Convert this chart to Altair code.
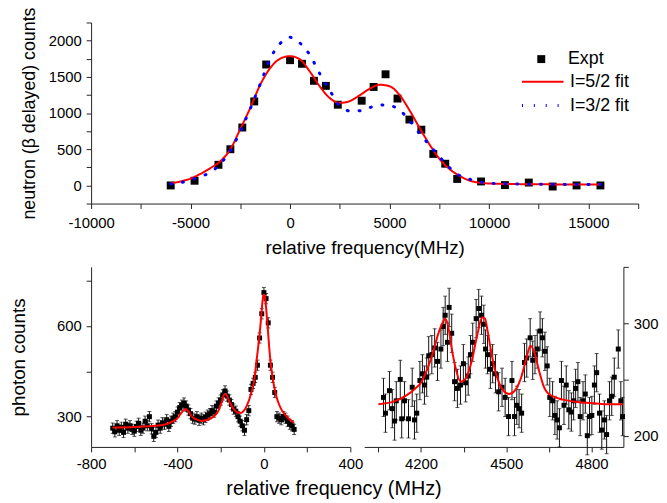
import altair as alt
import pandas as pd

FONT = "Liberation Sans"

# ---------------- top panel data ----------------
expt_freq = [-6000, -4800, -3600, -3000, -2400, -1800, -1200, 0, 600, 1200, 1800, 2400,
             3600, 4200, 4800, 5400, 6000, 6600, 7200, 7800, 8400, 9600, 10800, 12000,
             13200, 14400, 15600]
expt_counts = [0, 65, 285, 500, 800, 1160, 1670, 1730, 1680, 1445, 1375, 1115,
               1170, 1360, 1535, 1200, 910, 770, 435, 300, 90, 55, 5, 40,
               -15, 0, 0]

fit_freq = [-6000, -5500, -5000, -4500, -4000, -3500, -3000, -2500, -2000, -1500, -1000,
            -500, 0, 500, 1000, 1500, 2000, 2500, 3000, 3500, 4000, 4500, 5000, 5500,
            6000, 6500, 7000, 7500, 8000, 8500, 9000, 9500, 10000, 11000, 12000, 13000,
            14000, 15000, 15600]
fit_52 = [30, 55, 95, 160, 240, 335, 500, 780, 1070, 1390, 1620, 1750, 1785, 1740, 1570,
          1365, 1205, 1140, 1165, 1245, 1335, 1390, 1370, 1250, 1040, 800, 570, 370, 230,
          135, 70, 38, 27, 20, 17, 15, 13, 12, 12]
fit_32 = [23, 40, 75, 125, 180, 300, 478, 750, 1060, 1400, 1750, 1960, 2045, 1965, 1800,
          1540, 1310, 1100, 1030, 1030, 1075, 1110, 1105, 1040, 900, 720, 560, 400, 250,
          140, 88, 50, 32, 22, 18, 15, 13, 12, 12]

# ---------------- bottom-left data ----------------
left_freq = [-700, -690, -680, -670, -660, -650, -640, -630, -620, -610, -600, -590, -580,
             -570, -560, -550, -540, -530, -520, -510, -500, -490, -480, -470, -460, -450,
             -440, -430, -420, -410, -400, -390, -380, -370, -360, -350, -340, -330, -320,
             -310, -300, -290, -280, -270, -260, -250, -240, -230, -220, -210, -200, -190,
             -180, -170, -160, -150, -140, -130, -120, -110, -100, -90, -80, -70, -60, -50,
             -40, -30, -20, -10, 0, 10, 20, 30, 40, 50, 60, 70, 80, 90, 100, 110, 120, 130,
             140]
left_counts = [262, 250, 270, 255, 265, 248, 275, 262, 270, 258, 252, 268, 278,
               255, 262, 285, 270, 300, 260, 235, 248, 272, 262, 280, 275, 290,
               268, 285, 295, 300, 315, 330, 338, 345, 335, 322, 310, 295, 292,
               300, 288, 295, 290, 298, 305, 310, 320, 315, 335, 345, 355, 372,
               385, 368, 355, 340, 325, 318, 300, 285, 270, 255, 290, 320, 390, 410,
               430, 470, 560, 640, 710, 690, 610, 470, 430, 380, 300, 295, 290, 300,
               295, 285, 275, 270, 258]
left_fit_freq = [-700, -600, -500, -450, -420, -400, -385, -370, -362, -350, -335, -310,
                 -290, -260, -230, -210, -195, -185, -180, -172, -160, -145, -125, -110,
                 -95, -80, -60, -45, -35, -25, -15, -8, -3, 0, 4, 10, 18, 28, 40, 50, 65,
                 80, 100, 120, 140]
left_fit = [264, 266, 270, 276, 285, 295, 310, 322, 325, 318, 302, 290,
            286, 290, 302, 320, 350, 372, 376, 370, 350, 330, 315, 312,
            318, 335, 375, 420, 480, 540, 610, 670, 700, 704, 698, 660, 590, 500, 430, 390, 350,
            325, 305, 290, 280]

# ---------------- bottom-right data ----------------
right_freq = [4068, 4075, 4089, 4099, 4107, 4113, 4127, 4132, 4142, 4156, 4169, 4177, 4185,
              4196, 4205, 4212, 4220, 4227, 4238, 4248, 4258, 4270, 4278, 4285, 4293, 4299,
              4308, 4318, 4328, 4339, 4349, 4357, 4366, 4374, 4382, 4394, 4403, 4413, 4421,
              4427, 4434, 4444, 4452, 4462, 4473, 4485, 4496, 4508, 4520, 4529, 4537, 4545,
              4554, 4564, 4572, 4584, 4593, 4601, 4609, 4619, 4627, 4636, 4644, 4653, 4663,
              4671, 4679, 4687, 4694, 4703, 4711, 4720, 4729, 4737, 4744, 4752, 4760, 4770,
              4778, 4785, 4793, 4801, 4810, 4818, 4828, 4836, 4845, 4853, 4863, 4871, 4880,
              4894, 4903, 4909]
right_counts = [234, 220, 240, 224, 213, 231, 250, 215, 231, 215, 243, 214, 220,
                249, 255, 245, 252, 271, 272, 278, 266, 277, 297, 307, 283, 314,
                291, 248, 242, 245, 264, 247, 253, 272, 283, 304, 313, 307, 299,
                277, 272, 259, 264, 255, 239, 243, 234, 217, 249, 217, 227, 224,
                220, 265, 269, 287, 267, 272, 277, 293, 287, 275, 262, 234, 231,
                218, 214, 207, 249, 227, 245, 223, 221, 231, 242, 248, 217, 231,
                237, 200, 217, 218, 245, 256, 220, 205, 214, 201, 231, 235, 252,
                277, 231, 217]
right_fit_freq = [4050, 4100, 4150, 4180, 4200, 4220, 4240, 4260, 4275, 4285, 4295, 4305,
                  4320, 4340, 4360, 4380, 4400, 4415, 4425, 4435, 4450, 4470, 4490, 4510,
                  4530, 4550, 4570, 4585, 4600, 4615, 4630, 4650, 4700, 4750, 4800, 4850,
                  4910]
right_fit = [228, 230, 236, 242, 247, 258, 272, 290, 300, 304, 298, 282,
             262, 248, 252, 268, 292, 305, 304, 292, 270, 250, 240, 237,
             240, 250, 268, 280, 273, 258, 245, 237, 232, 230, 229, 228,
             228]

left_err = 17   # approx. half-length of the error bars (counts)
right_err = 17

# ---------------- tick lists ----------------
top_x_ticks = [-10000, -7500, -5000, -2500, 0, 2500, 5000, 7500, 10000, 12500, 15000, 17500]
top_y_ticks = [-250, 0, 250, 500, 750, 1000, 1250, 1500, 1750, 2000, 2250]
bl_x_ticks = [-800, -600, -400, -200, 0, 200, 400]
bl_y_ticks = [300, 450, 600, 750]
br_x_ticks = [4050, 4200, 4350, 4500, 4650, 4800]
br_y_ticks = [200, 250, 300, 350]


def lab(step):
    return f"datum.value % {step} === 0 ? '' + datum.value : ''"


# ---------------- top chart ----------------
expt_df = pd.DataFrame({"freq": expt_freq, "counts": expt_counts, "series": "Expt"})
fit_df = pd.concat([
    pd.DataFrame({"freq": fit_freq, "counts": fit_52, "series": "I=5/2 fit"}),
    pd.DataFrame({"freq": fit_freq, "counts": fit_32, "series": "I=3/2 fit"}),
])

tx = alt.X("freq:Q", scale=alt.Scale(domain=[-10000, 17500], nice=False, zero=False),
           axis=alt.Axis(values=top_x_ticks, labelExpr=lab(5000), labelPadding=7,
                         title="relative frequency(MHz)", titleFontSize=19, titlePadding=8))
ty = alt.Y("counts:Q", scale=alt.Scale(domain=[-250, 2250], nice=False, zero=False),
           axis=alt.Axis(values=top_y_ticks, labelExpr=lab(500),
                         title="neutron (β delayed) counts", titleFontSize=18, titlePadding=10))

pts = alt.Chart(expt_df).mark_point(filled=True, size=64, color="black", opacity=1).encode(
    x=tx, y=ty,
    shape=alt.Shape("series:N", scale=alt.Scale(domain=["Expt"], range=["square"]),
                    legend=alt.Legend(orient="none", legendX=446, legendY=28, title=None,
                                      labelFontSize=18, labelOffset=18, symbolSize=64,
                                      symbolFillColor="black", symbolStrokeColor="black",
                                      padding=0)),
)

line_legend = alt.Legend(orient="none", legendX=446, legendY=50, title=None,
                         labelFontSize=18, labelOffset=17, symbolSize=324,
                         symbolType="M-2.333,0H2.333", symbolStrokeWidth=2.5,
                         rowPadding=4.5, padding=0)
fit_dom = ["I=5/2 fit", "I=3/2 fit"]
lines = alt.Chart(fit_df).mark_line(interpolate="monotone", strokeCap="round").encode(
    x=tx, y=ty,
    color=alt.Color("series:N", scale=alt.Scale(domain=fit_dom, range=["#ff0000", "#0000ff"]),
                    legend=line_legend),
    strokeDash=alt.StrokeDash("series:N", scale=alt.Scale(domain=fit_dom, range=[[1, 0], [1, 11]]),
                              legend=line_legend),
    strokeWidth=alt.StrokeWidth("series:N", scale=alt.Scale(domain=fit_dom, range=[2, 3]),
                                legend=None),
    detail="series:N",
)

top = alt.layer(pts, lines).properties(width=553, height=183)

# ---------------- bottom-left chart ----------------
bl_df = pd.DataFrame({"freq": left_freq, "counts": left_counts})
bl_df["err"] = left_err
blfit_df = pd.DataFrame({"freq": left_fit_freq, "counts": left_fit})

blx = alt.X("freq:Q", scale=alt.Scale(domain=[-800, 400], nice=False, zero=False),
            axis=alt.Axis(values=bl_x_ticks, labelExpr=lab(400), title=None))
bly = alt.Y("counts:Q", scale=alt.Scale(domain=[200, 795], nice=False, zero=False),
            axis=alt.Axis(values=bl_y_ticks, labelExpr=lab(300), title="photon counts",
                          titleFontSize=19, titlePadding=28))

bl_err = alt.Chart(bl_df).mark_errorbar(ticks={"size": 4}, color="#111", thickness=1).encode(
    x=blx, y=bly, yError="err:Q")
bl_pts = alt.Chart(bl_df).mark_point(shape="square", filled=True, size=25, color="black",
                                     opacity=1).encode(x=blx, y=bly)
bl_line = alt.Chart(blfit_df).mark_line(color="#ff0000", strokeWidth=2,
                                        interpolate="monotone").encode(x=blx, y=bly)
bl = alt.layer(bl_err, bl_pts, bl_line).properties(width=262, height=182)

# ---------------- bottom-right chart ----------------
br_df = pd.DataFrame({"freq": right_freq, "counts": right_counts})
br_df["err"] = right_err
brfit_df = pd.DataFrame({"freq": right_fit_freq, "counts": right_fit})

brx = alt.X("freq:Q", scale=alt.Scale(domain=[4000, 4912], nice=False, zero=False),
            axis=alt.Axis(values=br_x_ticks, labelExpr=lab(300), title=None))
bry = alt.Y("counts:Q", scale=alt.Scale(domain=[190, 350], nice=False, zero=False),
            axis=alt.Axis(values=br_y_ticks, labelExpr=lab(100), title=None, orient="right"))

br_err = alt.Chart(br_df).mark_errorbar(ticks={"size": 4}, color="#111", thickness=1).encode(
    x=brx, y=bry, yError="err:Q")
br_pts = alt.Chart(br_df).mark_point(shape="square", filled=True, size=25, color="black",
                                     opacity=1).encode(x=brx, y=bry)
br_line = alt.Chart(brfit_df).mark_line(color="#ff0000", strokeWidth=2,
                                        interpolate="monotone").encode(x=brx, y=bry)
br = alt.layer(br_err, br_pts, br_line).properties(width=262, height=182)

bottom = alt.hconcat(bl, br, spacing=14, bounds="flush").properties(
    title=alt.TitleParams("relative frequency (MHz)", orient="bottom", anchor="middle",
                          fontSize=20, fontWeight="normal", offset=8, color="black"))

chart = alt.vconcat(top, bottom, spacing=64, bounds="flush").configure(
    font=FONT, padding={"left": 1, "top": -4, "right": 0, "bottom": 0}
).configure_view(stroke=None).configure_axis(
    grid=False, domainColor="#222", tickColor="#222", tickSize=5, domainWidth=1,
    tickWidth=1, labelFont=FONT, labelFontSize=15, labelColor="black", labelPadding=5,
    titleFont=FONT, titleFontWeight="normal", titleColor="black", labelFlush=False,
    labelOverlap=False
).configure_legend(labelFont=FONT, labelColor="black")

chart.save("out.html", embed_options={"renderer": "svg", "actions": False})
